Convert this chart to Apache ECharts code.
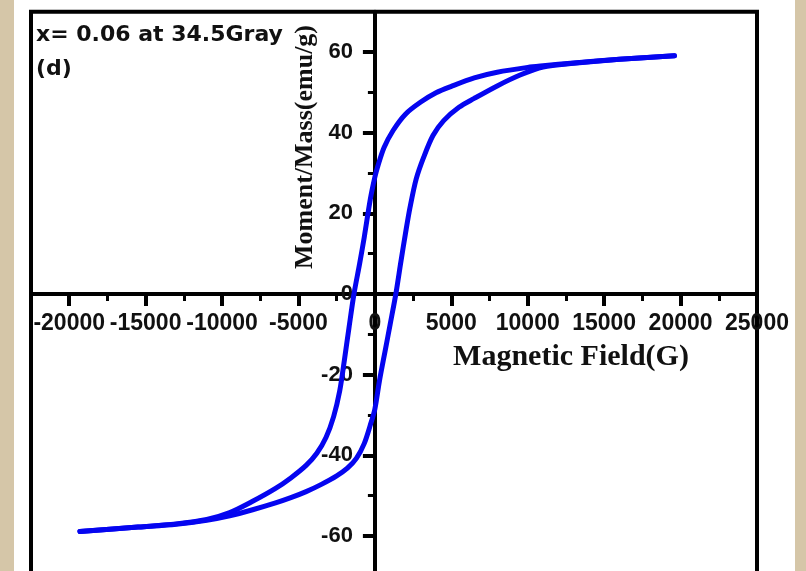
<!DOCTYPE html>
<html>
<head>
<meta charset="utf-8">
<script src="https://cdn.jsdelivr.net/npm/echarts@6/dist/echarts.min.js"></script>
<style>
  html, body { margin: 0; padding: 0; background: #ffffff; }
  #chart { width: 806px; height: 571px; }
</style>
</head>
<body>
<div id="chart"></div>
<script>
// Hysteresis loop: descending-field branch (from +H saturation to -H)
const upperField = [19600, 16000, 13000, 11000, 10000, 8000, 6500, 5000, 4000, 3000, 2000, 1200, 600, 200, 0, -300, -700, -1000, -1370, -1700, -2000, -2300, -2700, -3200, -3800, -4500, -5500, -6500, -8000, -9500, -11000, -13000, -15500, -19300];
const upperMoment = [59.1, 58.2, 57.3, 56.6, 56.2, 55.0, 53.6, 51.5, 49.9, 47.6, 44.6, 40.6, 36.3, 31.8, 29.0, 23.5, 14.0, 7.5, 0, -8.5, -16.5, -24.0, -30.4, -35.6, -39.5, -42.5, -45.6, -48.2, -51.4, -54.2, -55.9, -57.0, -57.8, -58.9];

// Ascending-field branch (from -H saturation back to +H)
const lowerField = [-19300, -15500, -13000, -11000, -9500, -8000, -6500, -5500, -4500, -3500, -2500, -1800, -1200, -700, -300, 0, 300, 700, 1000, 1370, 1700, 2000, 2300, 2700, 3200, 3800, 4500, 5500, 6500, 8000, 9500, 11000, 13000, 16000, 19600];
const lowerMoment = [-58.9, -57.8, -57.1, -56.1, -55.0, -53.5, -51.8, -50.5, -49.0, -47.2, -45.1, -43.2, -40.7, -37.1, -32.5, -28.5, -21.5, -13.5, -7.5, 0, 8.0, 15.0, 21.5, 28.5, 34.0, 39.3, 43.0, 46.3, 48.5, 51.6, 54.3, 56.3, 57.2, 58.2, 59.1];

// Axis tick values
const fieldMajorTicks = [-20000, -15000, -10000, -5000, 0, 5000, 10000, 15000, 20000, 25000];
const fieldMinorTicks = [-22500, -17500, -12500, -7500, -2500, 2500, 7500, 12500, 17500, 22500];
const momentMajorTicks = [-60, -40, -20, 0, 20, 40, 60];
const momentMinorTicks = [-70, -50, -30, -10, 10, 30, 50, 70];

const chart = echarts.init(document.getElementById('chart'), null, { renderer: 'canvas' });

const labelFont = 'Liberation Sans, Arial, sans-serif';
const xMin = -22500, xMax = 25000, yMin = -70, yMax = 70;

// plot frame in pixels
const frameLeft = 31, frameRight = 757, frameTop = 11.7, frameBottom = 576.3;
const H = 571, W = 806;
// pixel position of the origin (field 0, moment 0)
const zeroX = frameLeft + (0 - xMin) / (xMax - xMin) * (frameRight - frameLeft);
const zeroY = frameTop + (yMax - 0) / (yMax - yMin) * (frameBottom - frameTop);

const pairs = (xs, ys) => xs.map((x, i) => [x, ys[i]]);
const plain = v => String(v);

const hiddenAxis = (extra) => Object.assign({
  type: 'value', show: true,
  axisLine: { show: false }, axisTick: { show: false }, axisLabel: { show: false }, splitLine: { show: false }
}, extra);

const loopLine = { color: '#0505f0', width: 5, cap: 'round', join: 'round' };

chart.setOption({
  animation: false,
  backgroundColor: '#ffffff',
  grid: [
    // data area with the black frame
    {
      left: frameLeft, right: W - frameRight, top: frameTop, bottom: H - frameBottom,
      outerBoundsMode: 'none', containLabel: false,
      show: true, borderColor: '#000000', borderWidth: 4, backgroundColor: '#ffffff'
    },
    // carrier of the field axis, its bottom edge on moment = 0
    {
      left: frameLeft, right: W - frameRight, top: frameTop, bottom: H - zeroY,
      outerBoundsMode: 'none', containLabel: false, show: false
    },
    // carrier of the moment axis, its left edge on field = 0
    {
      left: zeroX, right: W - frameRight, top: frameTop, bottom: H - frameBottom,
      outerBoundsMode: 'none', containLabel: false, show: false
    }
  ],
  xAxis: [
    hiddenAxis({ gridIndex: 0, min: xMin, max: xMax, interval: 2500 }),
    {
      type: 'value', gridIndex: 1, min: xMin, max: xMax, interval: 2500, position: 'bottom',
      axisLine: { show: true, onZero: false, lineStyle: { color: '#000', width: 4 } },
      axisTick: { show: true, customValues: fieldMajorTicks, length: 12, lineStyle: { color: '#000', width: 4 } },
      axisLabel: {
        show: true, customValues: fieldMajorTicks, margin: 18, formatter: plain, hideOverlap: false,
        color: '#111', fontSize: 23, fontWeight: 'bold', fontFamily: labelFont,
        showMinLabel: true, showMaxLabel: true
      },
      splitLine: { show: false }
    },
    {
      type: 'value', gridIndex: 1, min: xMin, max: xMax, interval: 2500, position: 'bottom',
      axisLine: { show: false, onZero: false },
      axisTick: { show: true, customValues: fieldMinorTicks, length: 7, lineStyle: { color: '#000', width: 3 } },
      axisLabel: { show: false },
      splitLine: { show: false }
    },
    hiddenAxis({ gridIndex: 2, min: 0, max: xMax, interval: 5000 })
  ],
  yAxis: [
    hiddenAxis({ gridIndex: 0, min: yMin, max: yMax, interval: 10 }),
    hiddenAxis({ gridIndex: 1, min: 0, max: yMax, interval: 10 }),
    {
      type: 'value', gridIndex: 2, min: yMin, max: yMax, interval: 10, position: 'left',
      axisLine: { show: true, onZero: false, lineStyle: { color: '#000', width: 4 } },
      axisTick: { show: true, customValues: momentMajorTicks, length: 12, lineStyle: { color: '#000', width: 4 } },
      axisLabel: {
        show: true, customValues: momentMajorTicks, margin: 22, formatter: plain, hideOverlap: false,
        color: '#111', fontSize: 22, fontWeight: 'bold', fontFamily: labelFont,
        showMinLabel: true, showMaxLabel: true
      },
      splitLine: { show: false }
    },
    {
      type: 'value', gridIndex: 2, min: yMin, max: yMax, interval: 10, position: 'left',
      axisLine: { show: false, onZero: false },
      axisTick: { show: true, customValues: momentMinorTicks, length: 7, lineStyle: { color: '#000', width: 3 } },
      axisLabel: { show: false },
      splitLine: { show: false }
    }
  ],
  series: [
    {
      name: 'descending',
      type: 'line',
      xAxisIndex: 0, yAxisIndex: 0,
      data: pairs(upperField, upperMoment),
      showSymbol: false,
      smooth: 0.3,
      lineStyle: loopLine,
      z: 5
    },
    {
      name: 'ascending',
      type: 'line',
      xAxisIndex: 0, yAxisIndex: 0,
      data: pairs(lowerField, lowerMoment),
      showSymbol: false,
      smooth: 0.3,
      lineStyle: loopLine,
      z: 5
    }
  ],
  graphic: [
    // parchment side strips
    { type: 'rect', left: 0, top: 0, shape: { width: 14, height: 571 }, style: { fill: '#d5c6a8' }, z: -10 },
    { type: 'rect', left: 795, top: 0, shape: { width: 11, height: 571 }, style: { fill: '#d5c6a8' }, z: -10 },
    // panel annotation
    {
      type: 'text', x: 36, y: 35, z: 10,
      style: { text: 'x= 0.06 at 34.5Gray', fill: '#111', font: 'bold 22px "DejaVu Sans", sans-serif', textAlign: 'left', textVerticalAlign: 'middle' }
    },
    {
      type: 'text', x: 36, y: 69, z: 10,
      style: { text: '(d)', fill: '#111', font: 'bold 22px "DejaVu Sans", sans-serif', textAlign: 'left', textVerticalAlign: 'middle' }
    },
    // axis titles
    {
      type: 'text', x: 571, y: 357, z: 10,
      style: { text: 'Magnetic Field(G)', fill: '#111', font: 'bold 30px "Liberation Serif", "Times New Roman", serif', textAlign: 'center', textVerticalAlign: 'middle' }
    },
    {
      type: 'text', x: 305, y: 147, rotation: Math.PI / 2, z: 10,
      style: { text: 'Moment/Mass(emu/g)', fill: '#111', font: 'bold 26px "Liberation Serif", "Times New Roman", serif', textAlign: 'center', textVerticalAlign: 'middle' }
    }
  ]
});
</script>
</body>
</html>
